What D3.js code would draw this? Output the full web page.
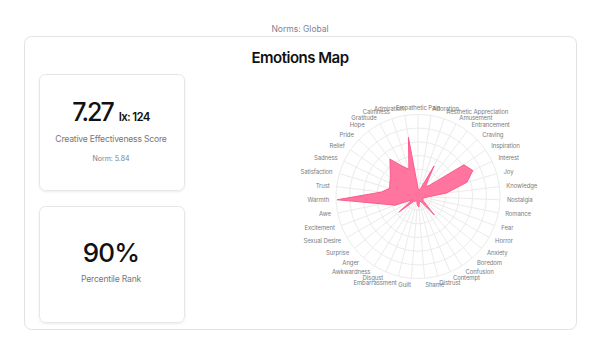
<!DOCTYPE html>
<html>
<head>
<meta charset="utf-8">
<script src="https://cdn.jsdelivr.net/npm/d3@7"></script>
<style>
  body { margin: 0; background: #fff; font-family: Inter, "Noto Sans", sans-serif; }
  .lbl { font-size: 6px; fill: #7c7c7c; letter-spacing: -0.1px; }
</style>
</head>
<body>
<svg width="600" height="354"></svg>
<script>
// emotions, clockwise from the top
var emotions = ["Empathetic Pain", "Adoration", "Aesthetic Appreciation", "Amusement", "Entrancement",
  "Craving", "Inspiration", "Interest", "Joy", "Knowledge", "Nostalgia", "Romance", "Fear", "Horror",
  "Anxiety", "Boredom", "Confusion", "Contempt", "Distrust", "Shame", "Guilt", "Embarrassment",
  "Disgust", "Awkwardness", "Anger", "Surprise", "Sexual Desire", "Excitement", "Awe", "Warmth",
  "Trust", "Satisfaction", "Sadness", "Relief", "Pride", "Hope", "Gratitude", "Calmness", "Admiration"];
var scores = [3.0, 2.4, 3.0, 12.6, 4.5, 6.0, 20.4, 22.2, 18.6, 10.5, 3.6, 2.4, 1.8, 2.1, 2.4, 9.0,
  2.4, 1.8, 2.1, 3.9, 3.0, 1.8, 1.5, 2.1, 2.4, 9.0, 2.4, 9.0, 13.5, 29.6, 13.5, 10.8, 11.4, 12.3,
  14.1, 17.1, 12.6, 10.5, 21.9];
var rings = [5, 10, 15, 20, 25, 30];

var svg = d3.select("svg");

svg.append("text").attr("x", 300).attr("y", 32).attr("text-anchor", "middle")
  .style("font-size", "8.5px").style("fill", "#80818f").text("Norms: Global");

svg.append("rect").attr("x", 24.5).attr("y", 36.5).attr("width", 552).attr("height", 293)
  .attr("rx", 7).style("fill", "#fff").style("stroke", "#e2e2e2");

svg.append("text").attr("x", 300).attr("y", 63).attr("text-anchor", "middle")
  .style("font-size", "15px").style("font-weight", 600).style("letter-spacing", "-0.5px")
  .style("fill", "#111").text("Emotions Map");

var defs = svg.append("defs");
var f = defs.append("filter").attr("id", "sh").attr("x", "-10%").attr("y", "-10%")
  .attr("width", "120%").attr("height", "120%");
f.append("feDropShadow").attr("dx", 0).attr("dy", 1).attr("stdDeviation", 1.2)
  .attr("flood-color", "#000").attr("flood-opacity", 0.08);

function card(y) {
  svg.append("rect").attr("x", 39.5).attr("y", y + 0.5).attr("width", 145).attr("height", 116)
    .attr("rx", 6).style("fill", "#fff").style("stroke", "#e6e6e6").attr("filter", "url(#sh)");
}
card(74);
card(206);

var t1 = svg.append("text").attr("x", 111).attr("y", 121).attr("text-anchor", "middle")
  .style("fill", "#111");
t1.append("tspan").style("font-size", "25px").style("font-weight", 500)
  .style("letter-spacing", "-2px").text("7.27");
t1.append("tspan").attr("dx", 6).style("font-size", "11.5px").style("font-weight", 600)
  .style("letter-spacing", "-0.7px").text("Ix: 124");

svg.append("text").attr("x", 111).attr("y", 142).attr("text-anchor", "middle")
  .style("font-size", "8.6px").style("fill", "#777").style("letter-spacing", "-0.2px")
  .text("Creative Effectiveness Score");
svg.append("text").attr("x", 111).attr("y", 161).attr("text-anchor", "middle")
  .style("font-size", "7px").style("fill", "#808080").text("Norm: 5.84");

svg.append("text").attr("x", 111).attr("y", 262).attr("text-anchor", "middle")
  .style("font-size", "26px").style("font-weight", 500).style("letter-spacing", "-0.8px")
  .style("fill", "#111").text("90%");
svg.append("text").attr("x", 111).attr("y", 282).attr("text-anchor", "middle")
  .style("font-size", "8.6px").style("fill", "#777").style("letter-spacing", "-0.2px")
  .text("Percentile Rank");

// radar
var cx = 418, cy = 196.5, R = 82;
var r = d3.scaleLinear().domain([0, 30]).range([0, R]);
var angle = d3.scaleLinear().domain([0, emotions.length]).range([0, 2 * Math.PI]);

var g = svg.append("g").attr("transform", "translate(" + cx + "," + cy + ")");

g.selectAll(".ring").data(rings).enter().append("circle")
  .attr("r", function(d) { return r(d); })
  .style("fill", "none").style("stroke", "#ebebeb").style("stroke-width", 1);

g.selectAll(".spoke").data(emotions).enter().append("line")
  .attr("x2", function(d, i) { return R * Math.sin(angle(i)); })
  .attr("y2", function(d, i) { return -R * Math.cos(angle(i)); })
  .style("stroke", "#ebebeb").style("stroke-width", 1);

var radial = d3.lineRadial()
  .angle(function(d, i) { return angle(i); })
  .radius(function(d) { return r(d); })
  .curve(d3.curveLinearClosed);

g.append("path").datum(scores).attr("d", radial)
  .style("fill", "#ff6e9b").style("fill-opacity", 0.95)
  .style("stroke", "#ff5a8c").style("stroke-width", 1);

var labelR = R + 7;
g.selectAll(".lbl").data(emotions).enter().append("text")
  .attr("class", "lbl")
  .attr("x", function(d, i) { return labelR * Math.sin(angle(i)); })
  .attr("y", function(d, i) { return -labelR * Math.cos(angle(i)); })
  .attr("text-anchor", function(d, i) {
    var a = angle(i) * 180 / Math.PI;
    if (a === 0 || Math.abs(a - 180) < 0.01) return "middle";
    return a < 180 ? "start" : "end";
  })
  .attr("dy", "0.35em")
  .text(function(d) { return d; });
</script>
</body>
</html>
